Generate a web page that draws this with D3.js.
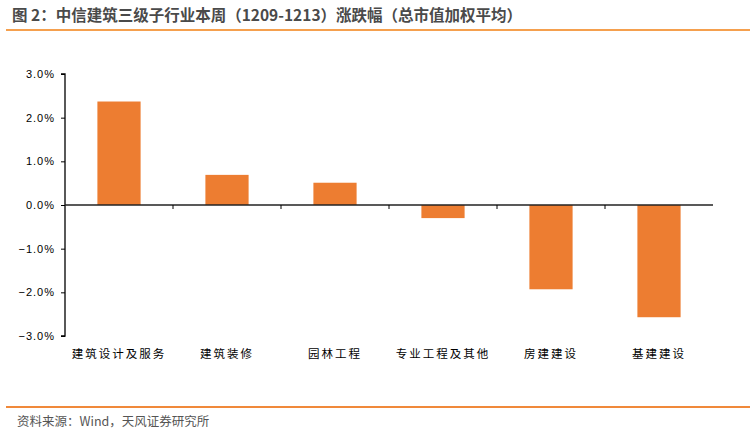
<!DOCTYPE html>
<html>
<head>
<meta charset="utf-8">
<script src="https://cdn.jsdelivr.net/npm/d3@7"></script>
<style>
  body { margin: 0; background: #fff; }
  svg { display: block; }
</style>
</head>
<body>
<script>
// 中信建筑三级子行业 weekly change (%)
var categories = ["建筑设计及服务", "建筑装修", "园林工程", "专业工程及其他", "房建建设", "基建建设"];
var values = [2.37, 0.69, 0.51, -0.30, -1.93, -2.57];
var yTicks = [3, 2, 1, 0, -1, -2, -3];

var w = 755, h = 434;
var svg = d3.select("body").append("svg")
    .attr("width", w)
    .attr("height", h);

// title + rules
svg.append("text")
    .attr("x", 12)
    .attr("y", 21)
    .style("font-family", "'Noto Sans CJK SC', sans-serif")
    .style("font-size", "15.5px")
    .style("font-weight", "bold")
    .style("fill", "#4a4a4a")
    .text("图 2：中信建筑三级子行业本周（1209-1213）涨跌幅（总市值加权平均）");

svg.append("line")
    .attr("x1", 6).attr("x2", 750)
    .attr("y1", 30).attr("y2", 30)
    .style("stroke", "#f5a04e")
    .style("stroke-width", 2);

svg.append("line")
    .attr("x1", 6).attr("x2", 750)
    .attr("y1", 407).attr("y2", 407)
    .style("stroke", "#f0893a")
    .style("stroke-width", 2);

svg.append("text")
    .attr("x", 17)
    .attr("y", 426)
    .style("font-family", "'Noto Sans CJK SC', sans-serif")
    .style("font-size", "12.5px")
    .style("fill", "#555")
    .text("资料来源：Wind，天风证券研究所");

// scales
var x = d3.scaleBand()
    .domain(categories)
    .range([65, 713])
    .paddingInner(0.6)
    .paddingOuter(0.3);

var y = d3.scaleLinear()
    .domain([-3, 3])
    .range([336, 74]);

// bars
svg.selectAll(".bar")
    .data(values)
    .enter()
    .append("rect")
    .attr("class", "bar")
    .attr("x", function(d, i){ return x(categories[i]); })
    .attr("width", x.bandwidth())
    .attr("y", function(d){ return y(Math.max(0, d)); })
    .attr("height", function(d){ return Math.abs(y(d) - y(0)); })
    .style("fill", "#ed7d31");

// y axis
var yAxis = d3.axisLeft(y)
    .tickValues(yTicks)
    .tickSize(4)
    .tickFormat(function(d){ return d3.format(".1f")(d) + "%"; });

var gy = svg.append("g")
    .attr("transform", "translate(65,0)")
    .call(yAxis);
gy.select(".domain").attr("d", "M-4," + y(3) + "H0V" + y(-3) + "H-4")
    .style("stroke", "#000").style("stroke-width", 1.3);
gy.selectAll(".tick line").style("stroke", "#000");
gy.selectAll(".tick text")
    .attr("x", -10)
    .style("font-family", "'Liberation Sans', Arial, sans-serif")
    .style("font-size", "11px")
    .style("letter-spacing", "1px")
    .style("fill", "#000");

// zero line with category ticks
var xAxis = d3.axisBottom(x).tickSize(0).tickFormat("");
var gx = svg.append("g")
    .attr("transform", "translate(0," + y(0) + ")")
    .call(xAxis);
gx.select(".domain").attr("d", "M65,0H713")
    .style("stroke", "#222").style("stroke-width", 1.5);
gx.selectAll(".sep")
    .data(categories.slice(1))
    .enter()
    .append("line")
    .attr("class", "sep")
    .attr("x1", function(d){ return x(d) - x.step() * x.paddingInner() / 2; })
    .attr("x2", function(d){ return x(d) - x.step() * x.paddingInner() / 2; })
    .attr("y1", 0).attr("y2", 4)
    .style("stroke", "#000");

// category labels
svg.selectAll(".cat")
    .data(categories)
    .enter()
    .append("text")
    .attr("class", "cat")
    .attr("x", function(d){ return x(d) + x.bandwidth() / 2; })
    .attr("y", 358)
    .attr("text-anchor", "middle")
    .style("font-family", "'Noto Sans CJK SC', sans-serif")
    .style("font-size", "11.5px")
    .style("letter-spacing", "2px")
    .style("fill", "#000")
    .text(function(d){ return d; });
</script>
</body>
</html>
